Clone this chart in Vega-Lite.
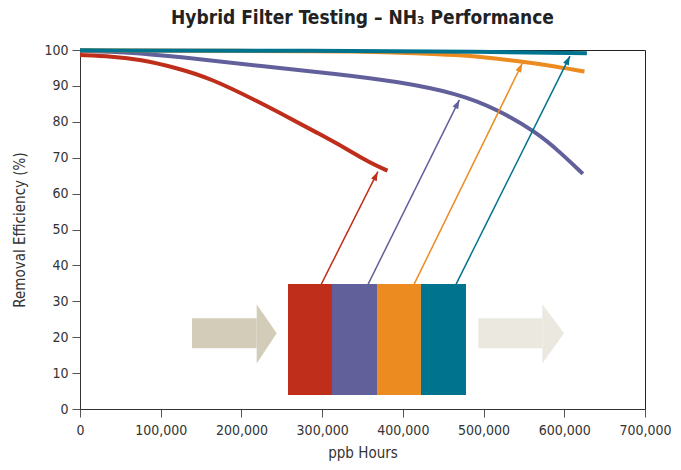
{
  "$schema": "https://vega.github.io/schema/vega-lite/v6.json",
  "width": 565,
  "height": 359,
  "autosize": "none",
  "padding": {"left": 80, "top": 50, "right": 36, "bottom": 61},
  "background": "white",
  "title": {
    "text": "Hybrid Filter Testing – NH₃ Performance",
    "font": "DejaVu Sans Condensed, sans-serif",
    "fontSize": 19,
    "fontWeight": "bold",
    "color": "#222222",
    "anchor": "middle",
    "offset": 14
  },
  "config": {
    "view": {"stroke": "#222222", "strokeWidth": 1},
    "font": "DejaVu Sans Condensed, sans-serif",
    "axis": {
      "grid": false,
      "domainColor": "#333333",
      "tickColor": "#555555",
      "tickSize": 8,
      "labelColor": "#333333",
      "labelFontSize": 14,
      "labelOverlap": false,
      "labelBound": false,
      "labelFlush": false,
      "labelFont": "DejaVu Sans Condensed, sans-serif",
      "titleFont": "DejaVu Sans Condensed, sans-serif",
      "titleFontSize": 15,
      "titleFontWeight": "normal",
      "titleColor": "#333333"
    }
  },
  "datasets": {
    "curves": [
      {"series": "Red", "x": 0, "y": 98.6},
      {"series": "Red", "x": 40000, "y": 98.2},
      {"series": "Red", "x": 74000, "y": 97.4},
      {"series": "Red", "x": 120000, "y": 95.0},
      {"series": "Red", "x": 162000, "y": 92.1},
      {"series": "Red", "x": 221000, "y": 85.6},
      {"series": "Red", "x": 260000, "y": 81.0},
      {"series": "Red", "x": 295000, "y": 76.8},
      {"series": "Red", "x": 330000, "y": 72.5},
      {"series": "Red", "x": 359000, "y": 68.6},
      {"series": "Red", "x": 381000, "y": 66.4},
      {"series": "Purple", "x": 0, "y": 99.8},
      {"series": "Purple", "x": 60000, "y": 99.4},
      {"series": "Purple", "x": 123000, "y": 98.1},
      {"series": "Purple", "x": 221000, "y": 95.6},
      {"series": "Purple", "x": 320000, "y": 93.3},
      {"series": "Purple", "x": 394000, "y": 91.2},
      {"series": "Purple", "x": 468000, "y": 87.9},
      {"series": "Purple", "x": 517000, "y": 83.5},
      {"series": "Purple", "x": 566000, "y": 77.0},
      {"series": "Purple", "x": 595000, "y": 71.5},
      {"series": "Purple", "x": 623000, "y": 65.5},
      {"series": "Orange", "x": 0, "y": 99.9},
      {"series": "Orange", "x": 200000, "y": 99.8},
      {"series": "Orange", "x": 350000, "y": 99.6},
      {"series": "Orange", "x": 418000, "y": 99.1},
      {"series": "Orange", "x": 468000, "y": 98.6},
      {"series": "Orange", "x": 500000, "y": 98.0},
      {"series": "Orange", "x": 546000, "y": 96.8},
      {"series": "Orange", "x": 590000, "y": 95.4},
      {"series": "Orange", "x": 625000, "y": 94.0},
      {"series": "Teal", "x": 0, "y": 99.9},
      {"series": "Teal", "x": 300000, "y": 99.8},
      {"series": "Teal", "x": 500000, "y": 99.5},
      {"series": "Teal", "x": 628000, "y": 99.1}
    ],
    "pointers": [
      {"series": "Red", "x": 299000, "y": 34.8, "x2": 369000, "y2": 66.1},
      {"series": "Purple", "x": 357000, "y": 34.8, "x2": 470000, "y2": 86.1},
      {"series": "Orange", "x": 414000, "y": 34.8, "x2": 548000, "y2": 96.3},
      {"series": "Teal", "x": 466000, "y": 34.8, "x2": 607000, "y2": 98.3}
    ],
    "block": [
      {"series": "Red", "x": 257700, "x2": 312200, "y": 3.9, "y2": 34.8},
      {"series": "Purple", "x": 312200, "x2": 368000, "y": 3.9, "y2": 34.8},
      {"series": "Orange", "x": 368000, "x2": 422400, "y": 3.9, "y2": 34.8},
      {"series": "Teal", "x": 422400, "x2": 478200, "y": 3.9, "y2": 34.8}
    ],
    "flowBody": [
      {"flow": "in", "x": 138800, "x2": 218900, "y": 16.9, "y2": 25.3},
      {"flow": "out", "x": 493500, "x2": 572800, "y": 16.9, "y2": 25.3}
    ],
    "flowHead": [
      {"flow": "in", "x": 218900, "lo": 12.7, "hi": 29.2},
      {"flow": "in", "x": 243700, "lo": 21.1, "hi": 21.1},
      {"flow": "out", "x": 572800, "lo": 12.7, "hi": 29.2},
      {"flow": "out", "x": 599700, "lo": 21.1, "hi": 21.1}
    ]
  },
  "encoding": {
    "x": {
      "type": "quantitative",
      "scale": {"domain": [0, 700000], "nice": false},
      "axis": {"title": "ppb Hours", "values": [0, 100000, 200000, 300000, 400000, 500000, 600000, 700000], "format": ",d", "labelPadding": 6, "titlePadding": 8}
    },
    "y": {
      "type": "quantitative",
      "scale": {"domain": [0, 100], "nice": false},
      "axis": {"title": "Removal Efficiency (%)", "values": [0, 10, 20, 30, 40, 50, 60, 70, 80, 90, 100], "labelPadding": 4, "titlePadding": 16}
    }
  },
  "layer": [
    {
      "data": {"name": "flowBody"},
      "transform": [{"filter": "datum.flow == 'in'"}],
      "mark": {"type": "rect", "color": "#d3ccb9"},
      "encoding": {"x": {"field": "x", "type": "quantitative"}, "x2": {"field": "x2"}, "y": {"field": "y", "type": "quantitative"}, "y2": {"field": "y2"}}
    },
    {
      "data": {"name": "flowHead"},
      "transform": [{"filter": "datum.flow == 'in'"}],
      "mark": {"type": "area", "color": "#d3ccb9", "opacity": 1},
      "encoding": {"x": {"field": "x", "type": "quantitative"}, "y": {"field": "lo", "type": "quantitative"}, "y2": {"field": "hi"}}
    },
    {
      "data": {"name": "flowBody"},
      "transform": [{"filter": "datum.flow == 'out'"}],
      "mark": {"type": "rect", "color": "#ebe8e0"},
      "encoding": {"x": {"field": "x", "type": "quantitative"}, "x2": {"field": "x2"}, "y": {"field": "y", "type": "quantitative"}, "y2": {"field": "y2"}}
    },
    {
      "data": {"name": "flowHead"},
      "transform": [{"filter": "datum.flow == 'out'"}],
      "mark": {"type": "area", "color": "#ebe8e0", "opacity": 1},
      "encoding": {"x": {"field": "x", "type": "quantitative"}, "y": {"field": "lo", "type": "quantitative"}, "y2": {"field": "hi"}}
    },
    {
      "data": {"name": "block"},
      "mark": {"type": "rect"},
      "encoding": {
        "x": {"field": "x", "type": "quantitative"}, "x2": {"field": "x2"},
        "y": {"field": "y", "type": "quantitative"}, "y2": {"field": "y2"},
        "color": {"field": "series", "type": "nominal", "scale": {"domain": ["Red", "Purple", "Orange", "Teal"], "range": ["#bf2e1b", "#62609a", "#ec8b20", "#00738e"]}, "legend": null}
      }
    },
    {
      "data": {"name": "curves"},
      "mark": {"type": "line", "interpolate": "basis", "strokeCap": "butt"},
      "encoding": {
        "x": {"field": "x", "type": "quantitative"},
        "y": {"field": "y", "type": "quantitative"},
        "color": {"field": "series", "type": "nominal", "legend": null},
        "strokeWidth": {"field": "series", "type": "nominal", "scale": {"domain": ["Red", "Purple", "Orange", "Teal"], "range": [4, 4, 4, 5]}, "legend": null}
      }
    },
    {
      "data": {"name": "pointers"},
      "mark": {"type": "rule", "strokeWidth": 1.5},
      "encoding": {
        "x": {"field": "x", "type": "quantitative"}, "x2": {"field": "x2"},
        "y": {"field": "y", "type": "quantitative"}, "y2": {"field": "y2"},
        "color": {"field": "series", "type": "nominal", "legend": null}
      }
    },
    {
      "data": {"name": "pointers"},
      "mark": {"type": "point", "filled": true, "opacity": 1, "shape": "M0,0L-0.35,1L0.35,1Z", "angle": 26, "size": 324, "strokeWidth": 0},
      "encoding": {
        "x": {"field": "x2", "type": "quantitative"},
        "y": {"field": "y2", "type": "quantitative"},
        "color": {"field": "series", "type": "nominal", "legend": null}
      }
    }
  ]
}
